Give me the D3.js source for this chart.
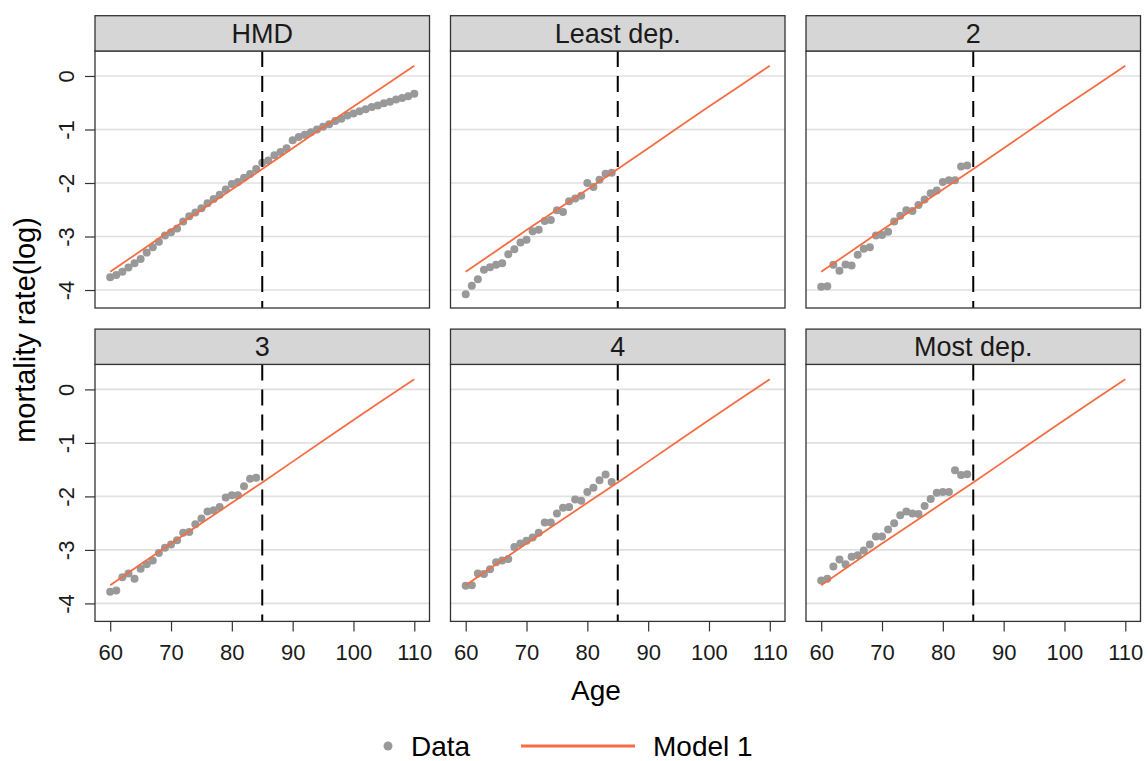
<!DOCTYPE html>
<html>
<head>
<meta charset="utf-8">
<script src="https://cdn.jsdelivr.net/npm/d3@7"></script>
<style>
  html, body { margin: 0; padding: 0; background: #ffffff; }
  svg { display: block; font-family: "Liberation Sans", Arial, sans-serif; }
</style>
</head>
<body>
<svg id="chart" width="1148" height="761"></svg>
<script>
// Facet titles, in panel order (left to right, top to bottom)
const panelNames = ["HMD", "Least dep.", "2", "3", "4", "Most dep."];

// Ages observed in each data source
const hmdAges = [60, 61, 62, 63, 64, 65, 66, 67, 68, 69, 70, 71, 72, 73, 74, 75, 76, 77, 78, 79,
  80, 81, 82, 83, 84, 85, 86, 87, 88, 89, 90, 91, 92, 93, 94, 95, 96, 97, 98, 99,
  100, 101, 102, 103, 104, 105, 106, 107, 108, 109, 110];
const depAges = [60, 61, 62, 63, 64, 65, 66, 67, 68, 69, 70, 71, 72, 73, 74, 75, 76, 77, 78, 79,
  80, 81, 82, 83, 84];

// Observed log mortality rates
const hmdRate = [-3.76, -3.72, -3.66, -3.58, -3.50, -3.42, -3.30, -3.20, -3.10, -2.98,
  -2.92, -2.85, -2.72, -2.62, -2.55, -2.47, -2.38, -2.30, -2.22, -2.12,
  -2.02, -1.98, -1.90, -1.83, -1.74, -1.62, -1.58, -1.48, -1.42, -1.35,
  -1.20, -1.14, -1.10, -1.05, -1.00, -0.95, -0.90, -0.84, -0.80, -0.74,
  -0.70, -0.66, -0.62, -0.58, -0.55, -0.51, -0.48, -0.44, -0.41, -0.38, -0.33];
const leastDepRate = [-4.08, -3.92, -3.80, -3.62, -3.575, -3.53, -3.50, -3.33, -3.24, -3.11,
  -3.06, -2.90, -2.875, -2.71, -2.69, -2.51, -2.54, -2.34, -2.29, -2.24,
  -2.00, -2.075, -1.94, -1.825, -1.81];
const dep2Rate = [-3.94, -3.93, -3.53, -3.64, -3.525, -3.54, -3.34, -3.23, -3.20, -2.98,
  -2.97, -2.91, -2.72, -2.61, -2.51, -2.525, -2.41, -2.31, -2.19, -2.14,
  -1.98, -1.95, -1.95, -1.69, -1.675];
const dep3Rate = [-3.78, -3.76, -3.51, -3.44, -3.54, -3.35, -3.27, -3.20, -3.06, -2.96,
  -2.90, -2.82, -2.68, -2.665, -2.52, -2.415, -2.28, -2.26, -2.20, -2.02,
  -1.98, -1.98, -1.81, -1.67, -1.65];
const dep4Rate = [-3.67, -3.66, -3.44, -3.45, -3.36, -3.23, -3.20, -3.17, -2.945, -2.88,
  -2.83, -2.77, -2.68, -2.49, -2.49, -2.32, -2.21, -2.20, -2.06, -2.08,
  -1.92, -1.84, -1.70, -1.59, -1.73];
const mostDepRate = [-3.57, -3.54, -3.31, -3.18, -3.27, -3.13, -3.10, -3.01, -2.90, -2.75,
  -2.75, -2.62, -2.50, -2.35, -2.28, -2.32, -2.33, -2.18, -2.05, -1.93,
  -1.92, -1.92, -1.51, -1.60, -1.585];

// Fitted Model 1 curve
const modelAges = [60, 65, 70, 75, 80, 85, 90, 95, 100, 105, 110];
const modelRate = [-3.66, -3.27, -2.88, -2.50, -2.12, -1.74, -1.35, -0.96, -0.57, -0.19, 0.19];

// Axis ticks and reference age
const xTicks = [60, 70, 80, 90, 100, 110];
const yTicks = [-4, -3, -2, -1, 0];
const cutAge = 85;

const panelData = [
  { ages: hmdAges, rate: hmdRate },
  { ages: depAges, rate: leastDepRate },
  { ages: depAges, rate: dep2Rate },
  { ages: depAges, rate: dep3Rate },
  { ages: depAges, rate: dep4Rate },
  { ages: depAges, rate: mostDepRate }
];

// Layout
const left0 = 95, top0 = 51;
const panelW = 334.5, plotH = 257, stripH = 35.3;
const stepX = 355.5, stepY = 313.4;

const pointColor = "#999999";
const lineColor = "#F46D43";
const frameColor = "#333333";

const svg = d3.select("#chart");

const x = d3.scaleLinear().domain([57.5, 112.5]).range([0, panelW]);
const y = d3.scaleLinear().domain([-4.336, 0.467]).range([plotH, 0]);

const modelLine = d3.line()
  .x((d, i) => x(modelAges[i]))
  .y(d => y(d));

panelNames.forEach((name, i) => {
  const col = i % 3, row = Math.floor(i / 3);
  const gx = left0 + col * stepX;
  const gy = top0 + row * stepY;
  const g = svg.append("g").attr("transform", `translate(${gx},${gy})`);

  // horizontal grid
  g.append("g")
    .selectAll("line")
    .data(yTicks)
    .join("line")
    .attr("x1", 0).attr("x2", panelW)
    .attr("y1", d => y(d)).attr("y2", d => y(d))
    .attr("stroke", "#e0e0e0")
    .attr("stroke-width", 1.6);

  // observed rates
  const pd = panelData[i];
  g.append("g")
    .selectAll("circle")
    .data(pd.rate)
    .join("circle")
    .attr("cx", (d, k) => x(pd.ages[k]))
    .attr("cy", d => y(d))
    .attr("r", 4)
    .attr("fill", pointColor);

  // fitted model
  g.append("path")
    .datum(modelRate)
    .attr("d", modelLine)
    .attr("fill", "none")
    .attr("stroke", lineColor)
    .attr("stroke-width", 1.8);

  // reference age
  g.append("line")
    .attr("x1", x(cutAge)).attr("x2", x(cutAge))
    .attr("y1", 0).attr("y2", plotH)
    .attr("stroke", "#000")
    .attr("stroke-width", 2)
    .attr("stroke-dasharray", "16,9");

  // panel frame
  g.append("rect")
    .attr("x", 0).attr("y", 0)
    .attr("width", panelW).attr("height", plotH)
    .attr("fill", "none")
    .attr("stroke", frameColor)
    .attr("stroke-width", 1.3);

  // facet strip
  g.append("rect")
    .attr("x", 0).attr("y", -stripH)
    .attr("width", panelW).attr("height", stripH)
    .attr("fill", "#d6d6d6")
    .attr("stroke", frameColor)
    .attr("stroke-width", 1.3);
  g.append("text")
    .attr("x", panelW / 2)
    .attr("y", -stripH / 2 + 9.5)
    .attr("text-anchor", "middle")
    .attr("font-size", 27)
    .attr("fill", "#1a1a1a")
    .text(name);

  // y axis on the first column
  if (col === 0) {
    const ax = g.append("g")
      .call(d3.axisLeft(y).tickValues(yTicks).tickSize(10).tickFormat(d => String(d)));
    ax.select(".domain").remove();
    ax.selectAll(".tick line").attr("stroke", frameColor).attr("stroke-width", 1.2);
    ax.selectAll(".tick text")
      .attr("x", null).attr("dy", null)
      .attr("transform", "translate(-21,0) rotate(-90)")
      .attr("text-anchor", "middle")
      .attr("font-size", 22)
      .attr("font-family", "Liberation Sans, Arial, sans-serif")
      .attr("fill", "#1a1a1a");
  }

  // x axis on the bottom row
  if (row === 1) {
    const ax = g.append("g")
      .attr("transform", `translate(0,${plotH})`)
      .call(d3.axisBottom(x).tickValues(xTicks).tickSize(10).tickFormat(d => String(d)));
    ax.select(".domain").remove();
    ax.selectAll(".tick line").attr("stroke", frameColor).attr("stroke-width", 1.2);
    ax.selectAll(".tick text")
      .attr("y", 39).attr("dy", null)
      .attr("font-size", 22)
      .attr("font-family", "Liberation Sans, Arial, sans-serif")
      .attr("fill", "#1a1a1a");
  }
});

// axis titles
svg.append("text")
  .attr("transform", "translate(35,330) rotate(-90)")
  .attr("text-anchor", "middle")
  .attr("font-size", 29)
  .attr("fill", "#000")
  .text("mortality rate(log)");

svg.append("text")
  .attr("x", 596).attr("y", 700)
  .attr("text-anchor", "middle")
  .attr("font-size", 28)
  .attr("fill", "#000")
  .text("Age");

// legend
const legend = svg.append("g");
legend.append("circle")
  .attr("cx", 388).attr("cy", 746).attr("r", 4.5)
  .attr("fill", pointColor);
legend.append("text")
  .attr("x", 411).attr("y", 756)
  .attr("font-size", 28)
  .text("Data");
legend.append("line")
  .attr("x1", 521).attr("x2", 635)
  .attr("y1", 746).attr("y2", 746)
  .attr("stroke", lineColor)
  .attr("stroke-width", 3);
legend.append("text")
  .attr("x", 653).attr("y", 756)
  .attr("font-size", 28)
  .text("Model 1");
</script>
</body>
</html>
